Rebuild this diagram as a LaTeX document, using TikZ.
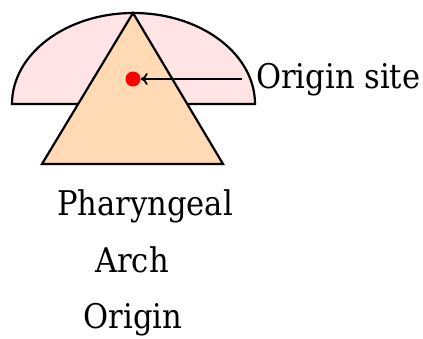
\documentclass[tikz,border=0pt]{standalone}
\usepackage{fontspec}
\setmainfont{DejaVu Serif Condensed}
\usetikzlibrary{positioning,arrows.meta}
\definecolor{archpink}{RGB}{255,228,230}
\definecolor{archpeach}{RGB}{255,218,180}

\begin{document}
\begin{tikzpicture}[
  x=1pt, y=1pt,
  outline/.style={draw=black, line width=2.2pt, line join=miter},
  sitedot/.style={circle, fill=red, minimum size=15pt, inner sep=0pt},
  label/.style={font=\fontsize{34}{40}\selectfont, inner sep=0pt, anchor=base},
  pointer/.style={-{To[length=7pt,width=12pt]}, line width=1.8pt}
]
\useasboundingbox (0,0) rectangle (423,338);

% half disc and triangle
\draw[outline, fill=archpink] (12,234) arc[start angle=180, end angle=0, x radius=121.5, y radius=91] -- cycle;
\draw[outline, fill=archpeach] (133,325) -- (223,174) -- (42,174) -- cycle;

\node[sitedot] (site) at (133,259) {};
\node[label, anchor=base west] (sitelabel) at (256,249) {Origin site};
\coordinate (tail) at (242,259);
\draw[pointer] (tail) -- (site.east);

% caption lines
\node[label] (pharyngeal) at (145,123) {Pharyngeal};
\node[label] (arch) at (132,66) {Arch};
\node[label] (origin) at (133,10) {Origin};

\end{tikzpicture}
\end{document}
